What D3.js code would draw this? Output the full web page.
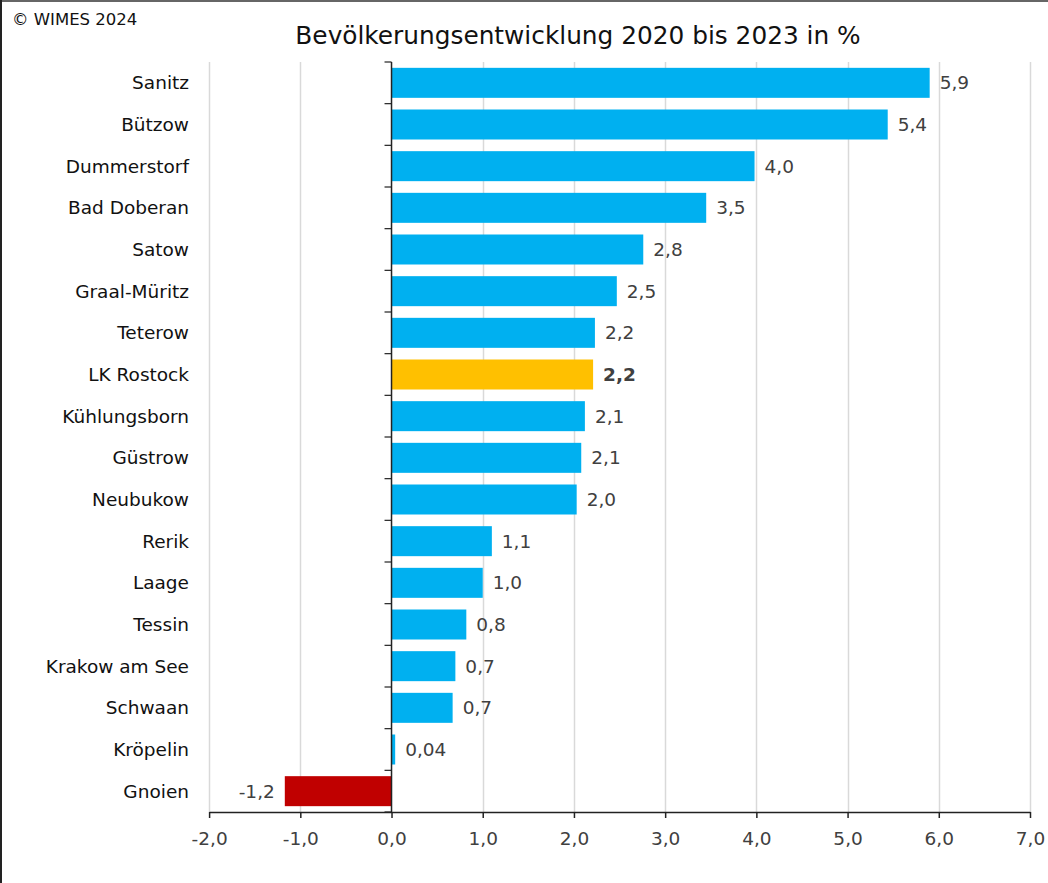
<!DOCTYPE html>
<html><head><meta charset="utf-8">
<script src="https://cdn.jsdelivr.net/npm/d3@7"></script>
<style>
html,body{margin:0;padding:0;background:#fff;}
svg{display:block;font-family:"DejaVu Sans",Verdana,sans-serif;}
</style></head>
<body>
<script>
const categories = ["Sanitz","Bützow","Dummerstorf","Bad Doberan","Satow","Graal-Müritz","Teterow","LK Rostock","Kühlungsborn","Güstrow","Neubukow","Rerik","Laage","Tessin","Krakow am See","Schwaan","Kröpelin","Gnoien"];
const values = [5.9,5.44,3.98,3.45,2.76,2.47,2.23,2.21,2.12,2.08,2.03,1.1,1.0,0.82,0.7,0.67,0.04,-1.17];
const xTicks = [-2,-1,0,1,2,3,4,5,6,7];
const highlight = "LK Rostock";
const title = "Bevölkerungsentwicklung 2020 bis 2023 in %";
const credit = "© WIMES 2024";

const W = 1048, H = 883;
const m = {left:391.5 - 182.4, right: W - 1030, top: 62, bottom: H - 812};
const svg = d3.select("body").append("svg").attr("width", W).attr("height", H);

svg.append("rect").attr("width",W).attr("height",H).attr("fill","#fff");
svg.append("line").attr("x1",0).attr("x2",W).attr("y1",1).attr("y2",1).attr("stroke","#666").attr("stroke-width",2);
svg.append("line").attr("x1",1).attr("x2",1).attr("y1",0).attr("y2",H).attr("stroke","#222").attr("stroke-width",2);

const x = d3.scaleLinear().domain([-2,7]).range([m.left, W - m.right]);
const y = d3.scaleBand().domain(categories).range([m.top, H - m.bottom]).paddingInner(0.28).paddingOuter(0.14);

const de = d3.formatLocale({decimal:",", thousands:".", grouping:[3], currency:["","€"], minus:"-"});
const f1 = de.format(".1f"), f2 = de.format(".2f");
const fmt = v => Math.abs(v) < 0.1 ? f2(v) : f1(v);

// gridlines
svg.append("g").selectAll("line").data(xTicks.filter(t => t !== 0)).join("line")
  .attr("x1", d => Math.round(x(d)) + 0.5).attr("x2", d => Math.round(x(d)) + 0.5)
  .attr("y1", m.top).attr("y2", H - m.bottom)
  .attr("stroke","#d9d9d9").attr("stroke-width",1.5);

// bars
svg.append("g").selectAll("rect").data(categories).join("rect")
  .attr("x", (d,i) => x(Math.min(0, values[i])))
  .attr("y", d => y(d))
  .attr("width", (d,i) => Math.abs(x(values[i]) - x(0)))
  .attr("height", y.bandwidth())
  .attr("fill", (d,i) => d === highlight ? "#FFC000" : (values[i] < 0 ? "#C00000" : "#00B0F0"));

// value labels
svg.append("g").selectAll("text").data(categories).join("text")
  .attr("x", (d,i) => values[i] >= 0 ? x(values[i]) + 10 : x(values[i]) - 10)
  .attr("y", d => y(d) + y.bandwidth()/2)
  .attr("dy","0.36em")
  .attr("text-anchor", (d,i) => values[i] >= 0 ? "start" : "end")
  .attr("font-size", 18.5)
  .attr("font-weight", d => d === highlight ? "bold" : "normal")
  .attr("fill","#404040")
  .text((d,i) => fmt(values[i]));

// x axis
const xAxis = d3.axisBottom(x).tickValues(xTicks).tickFormat(f1).tickSize(6).tickSizeOuter(0).tickPadding(14);
const gx = svg.append("g").attr("transform", `translate(0,${H - m.bottom})`).call(xAxis);
gx.select(".domain").attr("stroke","#222").attr("stroke-width",1.5);
gx.selectAll(".tick line").attr("stroke","#222").attr("stroke-width",1.5);
gx.selectAll(".tick text").attr("font-size",18.5).attr("fill","#404040").attr("font-family","DejaVu Sans, Verdana, sans-serif");

// y axis at zero with boundary ticks
const y0 = x(0);
svg.append("line").attr("x1",y0).attr("x2",y0).attr("y1",m.top).attr("y2",H - m.bottom)
  .attr("stroke","#222").attr("stroke-width",1.5);
const bounds = d3.range(categories.length + 1).map(i => m.top + i * (H - m.top - m.bottom) / categories.length);
svg.append("g").selectAll("line").data(bounds).join("line")
  .attr("x1", y0 - 7).attr("x2", y0).attr("y1", d => d).attr("y2", d => d)
  .attr("stroke","#222").attr("stroke-width",1.2);

// category labels
svg.append("g").selectAll("text").data(categories).join("text")
  .attr("x", 189).attr("y", d => y(d) + y.bandwidth()/2).attr("dy","0.36em")
  .attr("text-anchor","end").attr("font-size",18.5).attr("fill","#111")
  .text(d => d);

// title & credit
svg.append("text").attr("x", 578).attr("y", 44).attr("text-anchor","middle")
  .attr("font-size",24.8).attr("fill","#111").text(title);
svg.append("text").attr("x", 12).attr("y", 25).attr("font-size",16.5).attr("fill","#111").text(credit);
</script>
</body></html>
